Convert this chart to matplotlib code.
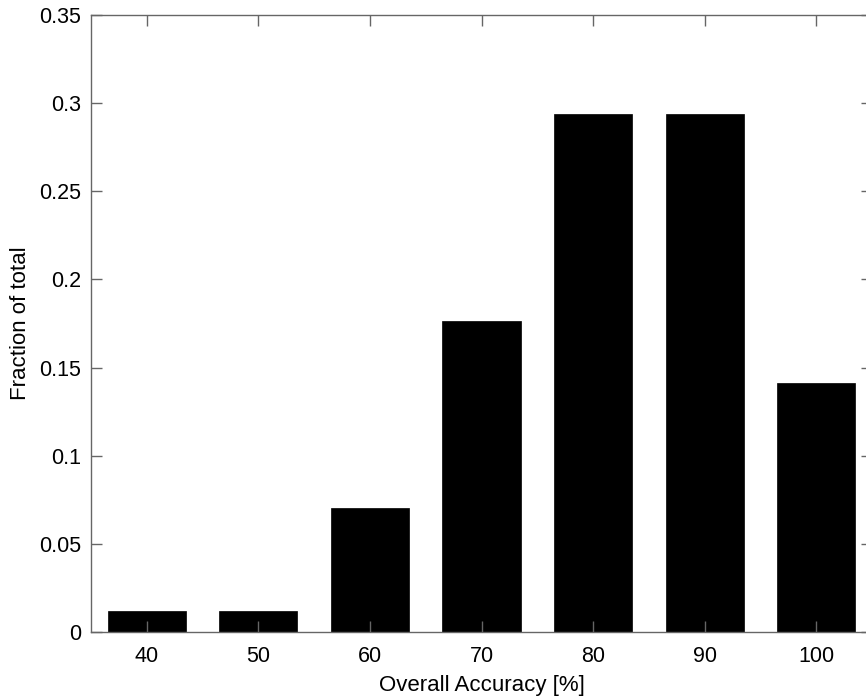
import matplotlib
matplotlib.use("Agg")
import matplotlib.pyplot as plt

categories = [40, 50, 60, 70, 80, 90, 100]
fractions = [1/85, 1/85, 6/85, 15/85, 25/85, 25/85, 12/85]
yticks = [0, 0.05, 0.1, 0.15, 0.2, 0.25, 0.3, 0.35]
ytick_labels = ["0", "0.05", "0.1", "0.15", "0.2", "0.25", "0.3", "0.35"]

plt.rcParams['font.family'] = ['Liberation Sans', 'DejaVu Sans']

W, H = 866, 698
fig = plt.figure(figsize=(W/100, H/100), dpi=100)
left, right, top, bottom = 91, 872, 15, 632
ax = fig.add_axes([left/W, 1 - bottom/H, (right-left)/W, (bottom-top)/H])

ax.bar(categories, fractions, width=7, color='black', edgecolor='black', linewidth=0.5)
ax.set_xlim(35, 105)
ax.set_ylim(0, 0.35)
ax.set_xticks(categories)
ax.set_xticklabels([str(c) for c in categories])
ax.set_yticks(yticks)
ax.set_yticklabels(ytick_labels)

spine_color = '#666666'
for s in ax.spines.values():
    s.set_color(spine_color)
    s.set_linewidth(1.0)
ax.tick_params(direction='in', length=8, width=1.0, color=spine_color,
               top=True, right=True, labelsize=15.5, labelcolor='black')
ax.tick_params(axis='x', pad=10)
ax.tick_params(axis='y', pad=7)

ax.set_xlabel("Overall Accuracy [%]", fontsize=16, labelpad=6)
ax.set_ylabel("Fraction of total", fontsize=16, labelpad=6)

fig.savefig("out.png", dpi=100)
